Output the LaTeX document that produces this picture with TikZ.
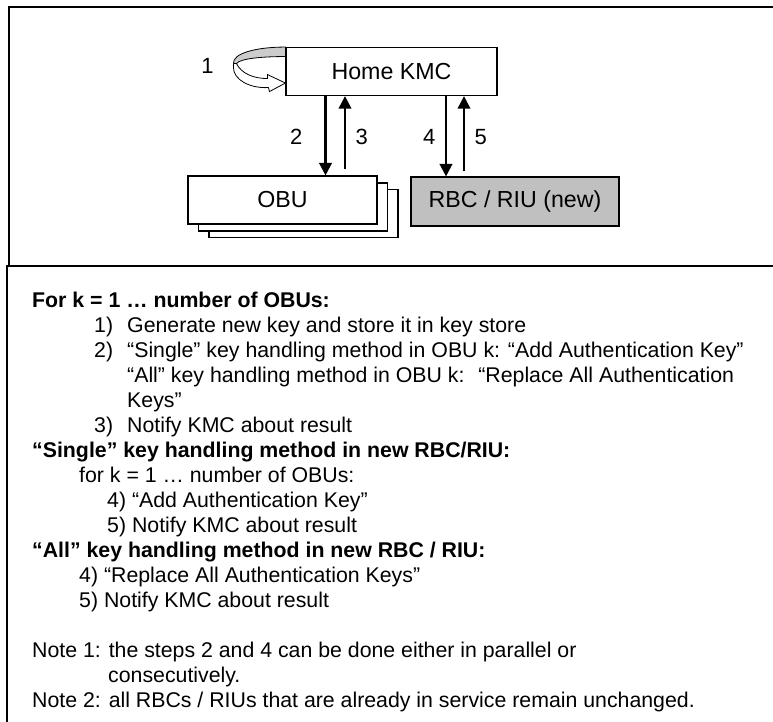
\documentclass[tikz,border=0pt]{standalone}
\usepackage{fontspec}
\setmainfont{Liberation Sans}
\usetikzlibrary{arrows.meta}
\definecolor{rbcGray}{RGB}{192,192,192}
\definecolor{bandGray}{RGB}{204,204,204}
\begin{document}
\begin{tikzpicture}
[x=1pt,y=-1pt,%
  frameLine/.style={line width=1.5pt},%
  boxDecorate/.style={draw,line width=1.1pt,fill=white,inner sep=0pt,minimum height=48pt,font=\fontsize{23.2}{27}\selectfont},%
  darkArrow/.style={-{Triangle[length=12.5pt,width=12.5pt]},line width=2.2pt},%
  numLabel/.style={inner sep=0pt,font=\fontsize{22}{26}\selectfont},%
  textLine/.style={anchor=base west,inner sep=0pt,font=\fontsize{21.3}{25}\selectfont},%
  loopBand/.style={draw,line width=0.8pt,line join=round}]
\useasboundingbox (0,0) rectangle (773,722);
%% frame
\draw[frameLine] (773,7) -- (9,7) -- (9,266);
\draw[frameLine] (773,266) -- (7,266) -- (7,722);
%% boxes
\node (kmc) at (391.5,71.6) [boxDecorate,minimum width=211pt] {Home KMC};
\foreach \nodename/\x/\y in {obu3/303.5/213.5, obu2/293/207}
{
  \node (\nodename) at (\x,\y) [boxDecorate,minimum width=189pt] {};
}
\node (obu) at (282.5,200) [boxDecorate,minimum width=189pt] {OBU};
\node (rbc) at (515,201.5) [boxDecorate,minimum width=208pt,minimum height=49pt,fill=rbcGray] {RBC / RIU (new)};
%% step 1 loop
\begin{scope}[shift={(kmc.north west)}]
\path[loopBand,fill=bandGray] (0,0) .. controls (-30,0) and (-53,6.5) .. (-52,16.5)
  -- (-49,16.5) .. controls (-45,11.5) and (-24,9.5) .. (0,9.5) -- cycle;
\path[loopBand,fill=white] (-49,16.5) .. controls (-44,26.5) and (-32,31.5) .. (-18,31.5)
  -- (-18,27.5) -- (0,36) -- (-16,44.5) -- (-17,40.5)
  .. controls (-36,41.5) and (-52,32.5) .. (-52,20.5) -- (-52,16.5) -- cycle;
\end{scope}
\node (one) at ([xshift=-78pt,yshift=6pt]kmc.west) [numLabel] {1};
%% steps 2 to 5
\draw[darkArrow] ([xshift=-66pt]kmc.south) -- ([xshift=43pt]obu.north)
  node[pos=0.51,left=22pt,numLabel] {2};
\draw[darkArrow] ([xshift=62.5pt,yshift=6pt]obu.north) -- ([xshift=-46.5pt]kmc.south)
  node[pos=0.45,right=9.5pt,numLabel] {3};
\draw[darkArrow] ([xshift=54.5pt]kmc.south) -- ([xshift=-69pt]rbc.north)
  node[pos=0.51,left=9.5pt,numLabel] {4};
\draw[darkArrow] ([xshift=-51pt,yshift=5pt]rbc.north) -- ([xshift=72.5pt]kmc.south)
  node[pos=0.46,right=9.5pt,numLabel] {5};
%% description text
\foreach \n/\x/\txt [count=\i] in {
  0/32/{\bfseries For k = 1 … number of OBUs:},
  1/94/{1)}, 1/127/{Generate new key and store it in key store},
  2/94/{2)}, 2/127/{“Single” key handling method in OBU k: “Add Authentication Key”},
  3/127/{“All” key handling method in OBU k:~ “Replace All Authentication},
  4/127/{Keys”},
  5/94/{3)}, 5/127/{Notify KMC about result},
  6/32/{\bfseries “Single” key handling method in new RBC/RIU:},
  7/79/{for k = 1 … number of OBUs:},
  8/107/{4) “Add Authentication Key”},
  9/107/{5) Notify KMC about result},
  10/32/{\bfseries “All” key handling method in new RBC / RIU:},
  11/79/{4) “Replace All Authentication Keys”},
  12/79/{5) Notify KMC about result},
  14/32/{Note 1: the steps 2 and 4 can be done either in parallel or},
  15/108/{consecutively.},
  16/32/{Note 2: all RBCs / RIUs that are already in service remain unchanged.}}
{
  \node (txt\i) at (\x,307+25*\n) [textLine] {\txt};
}
\end{tikzpicture}
\end{document}
